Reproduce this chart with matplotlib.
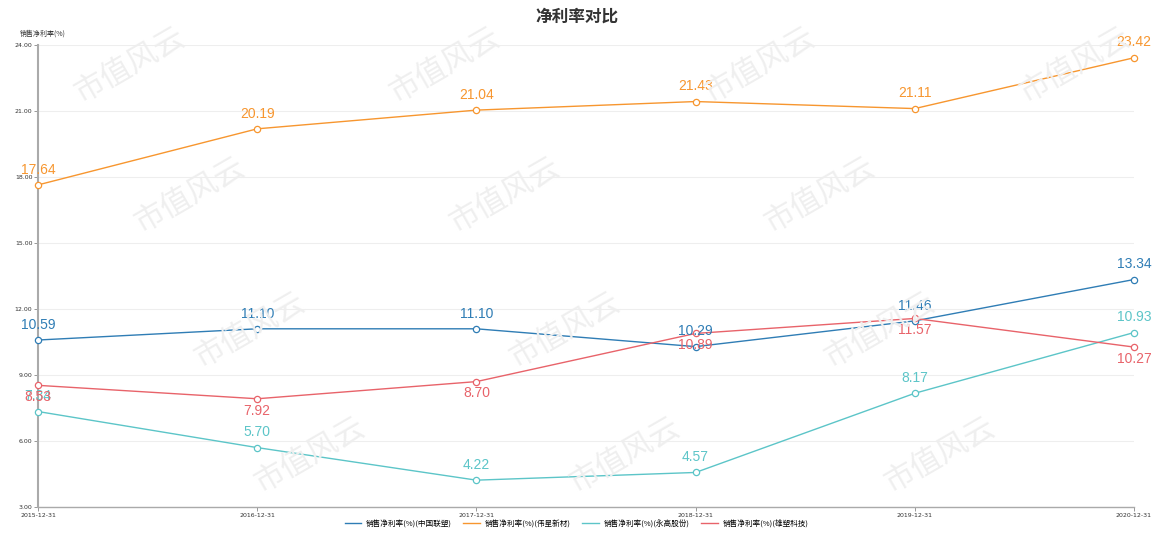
import matplotlib.pyplot as plt

plt.rcParams['font.family'] = ['Noto Sans CJK SC', 'DejaVu Sans']

dates = ['2015-12-31', '2016-12-31', '2017-12-31', '2018-12-31', '2019-12-31', '2020-12-31']
names = ['销售净利率(%)(中国联塑)', '销售净利率(%)(伟星新材)', '销售净利率(%)(永高股份)', '销售净利率(%)(雄塑科技)']
zglt = [10.59, 11.10, 11.10, 10.29, 11.46, 13.34]
wxxc = [17.64, 20.19, 21.04, 21.43, 21.11, 23.42]
ygfy = [7.34, 5.70, 4.22, 4.57, 8.17, 10.93]
xskj = [8.53, 7.92, 8.70, 10.89, 11.57, 10.27]
yticks = [3, 6, 9, 12, 15, 18, 21, 24]

series = [zglt, wxxc, ygfy, xskj]
colors = ['#2f7db5', '#f7962f', '#5cc5c8', '#e8636a']
label_pos = ['above', 'above', 'above', 'below']

fig = plt.figure(figsize=(11.53, 5.45), dpi=100)
ax = fig.add_axes([38 / 1153, 38 / 545, 1096 / 1153, 462 / 545])

# watermark
wm_rows = [(65, 130), (195, 190), (330, 250), (455, 310)]
for yy, x0 in wm_rows:
    for k in range(-1, 5):
        cx = x0 + k * 315
        if cx < 40 or cx > 1110:
            continue
        fig.text(cx / 1153, 1 - yy / 545, '市值风云', fontsize=22, color='#efefef',
                 rotation=30, ha='center', va='center', zorder=0)

x = list(range(len(dates)))
for vals, c, nm, pos in zip(series, colors, names, label_pos):
    ax.plot(x, vals, color=c, lw=1, label=nm, zorder=3)
    ax.plot(x, vals, 'o', ms=4.5, mfc='white', mec=c, mew=0.9, zorder=4, clip_on=False)
    for xi, v in zip(x, vals):
        off = 11 if pos == 'above' else -8.5
        ax.annotate('%.2f' % v, (xi, v), xytext=(0, off), textcoords='offset points',
                    ha='center', va='center', color=c, fontsize=10, family='Liberation Sans', zorder=5)

ax.set_xlim(0, 5)
ax.set_ylim(3, 24)
ax.set_yticks(yticks)
ax.set_yticklabels(['%.2f' % t for t in yticks], fontsize=4.5, color='#333333', family='DejaVu Sans')
ax.set_xticks(x)
ax.set_xticklabels(dates, fontsize=4.5, color='#333333', family='DejaVu Sans')
ax.tick_params(axis='y', length=3, width=0.6, color='#888888', pad=1)
ax.tick_params(axis='x', length=3, width=0.6, color='#888888', pad=1)
ax.grid(axis='y', color='#eeeeee', lw=0.8)
ax.set_axisbelow(True)
for s in ['top', 'right']:
    ax.spines[s].set_visible(False)
ax.spines['left'].set_color('#aaaaaa')
ax.spines['left'].set_linewidth(1.5)
ax.spines['bottom'].set_color('#aaaaaa')
ax.spines['bottom'].set_linewidth(1)
ax.patch.set_alpha(0)

fig.text(20 / 1153, 1 - 34 / 545, '销售净利率(%)', fontsize=5, color='#333333', va='center')
fig.text(0.5, 1 - 17 / 545, '净利率对比', fontsize=12, fontweight='bold', color='#333333',
         ha='center', va='center')

fig.legend(loc='center', bbox_to_anchor=(0.5, 1 - 524 / 545), ncol=4, frameon=False,
           fontsize=5.5, handlelength=2.2, columnspacing=1.5, handletextpad=0.6)

fig.savefig('out.png', dpi=100)
